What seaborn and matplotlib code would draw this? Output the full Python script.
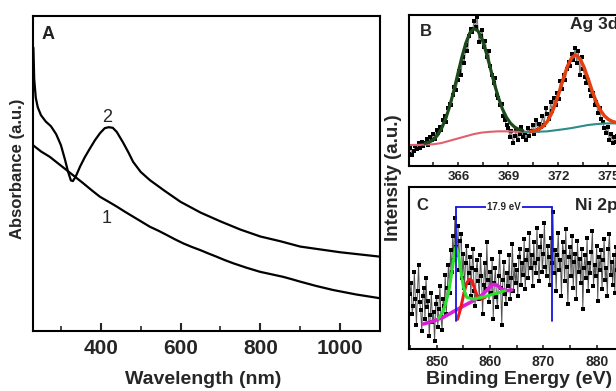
import matplotlib
matplotlib.use("Agg")
import matplotlib.pyplot as plt
from matplotlib.ticker import MultipleLocator
import seaborn as sns
import numpy as np

# ---------------- panel A : UV-vis absorbance ----------------
WL_1 = [230, 250, 272, 295, 314, 335, 356, 377, 398, 420, 440, 460, 481, 502,
        523, 545, 565, 586, 607, 628, 649, 670, 690, 711, 732, 765, 799, 828,
        857, 880, 899, 940, 983, 1040, 1100]
ABS_1 = [0.590, 0.570, 0.553, 0.530, 0.511, 0.490, 0.469, 0.447, 0.426, 0.410,
         0.395, 0.379, 0.363, 0.347, 0.331, 0.318, 0.305, 0.291, 0.278, 0.267,
         0.257, 0.246, 0.236, 0.225, 0.215, 0.201, 0.188, 0.180, 0.172, 0.164,
         0.157, 0.143, 0.130, 0.116, 0.104]

WL_2 = [231, 233, 237, 242, 250, 262, 275, 288, 300, 310, 318, 325, 330, 337,
        348, 360, 373, 385, 398, 410, 420, 430, 440, 456, 470, 481, 500, 523,
        560, 600, 650, 700, 750, 800, 850, 900, 950, 1000, 1050, 1100]
ABS_2 = [0.900, 0.800, 0.740, 0.710, 0.685, 0.665, 0.650, 0.625, 0.590, 0.545,
         0.505, 0.478, 0.476, 0.490, 0.522, 0.552, 0.580, 0.605, 0.628, 0.644,
         0.647, 0.645, 0.632, 0.598, 0.565, 0.537, 0.505, 0.479, 0.445, 0.410,
         0.376, 0.348, 0.322, 0.300, 0.285, 0.268, 0.259, 0.250, 0.243, 0.236]
A_TICKS = [400, 600, 800, 1000]

# ---------------- panel B : Ag 3d XPS ----------------
B_START, B_STEP = 363.02, 0.0978
B_COUNTS = [0.08, 0.12, 0.07, 0.10, 0.13, 0.11, 0.15, 0.12, 0.16, 0.13,
            0.15, 0.18, 0.14, 0.19, 0.17, 0.21, 0.18, 0.24, 0.22, 0.26,
            0.24, 0.30, 0.33, 0.29, 0.38, 0.41, 0.40, 0.47, 0.52, 0.50,
            0.57, 0.63, 0.60, 0.72, 0.68, 0.80, 0.76, 0.86, 0.91, 0.89,
            0.96, 0.92, 0.99, 0.82, 0.86, 0.90, 0.79, 0.83, 0.72, 0.76,
            0.66, 0.60, 0.55, 0.58, 0.47, 0.45, 0.40, 0.41, 0.33, 0.30,
            0.27, 0.25, 0.19, 0.23, 0.15, 0.20, 0.24, 0.17, 0.21, 0.26,
            0.19, 0.22, 0.17, 0.25, 0.20, 0.23, 0.27, 0.21, 0.30, 0.24,
            0.28, 0.26, 0.33, 0.27, 0.38, 0.34, 0.31, 0.42, 0.36, 0.45,
            0.40, 0.48, 0.44, 0.56, 0.51, 0.60, 0.57, 0.64, 0.69, 0.66,
            0.74, 0.70, 0.78, 0.68, 0.76, 0.60, 0.72, 0.64, 0.59, 0.55,
            0.57, 0.50, 0.46, 0.48, 0.40, 0.42, 0.35, 0.38, 0.31, 0.29,
            0.25, 0.22, 0.26, 0.17, 0.21, 0.15, 0.19, 0.16, 0.20, 0.18,
            0.22]
B_FIT1 = [0.148, 0.156, 0.171, 0.201, 0.245, 0.308, 0.392, 0.492, 0.605, 0.717,
          0.813, 0.882, 0.910, 0.894, 0.838, 0.752, 0.650, 0.545, 0.452, 0.376,
          0.320, 0.281, 0.256, 0.241, 0.233]
B_FIT1_RANGE = (364.0, 369.86)
B_FIT2 = [0.228, 0.233, 0.243, 0.262, 0.293, 0.344, 0.412, 0.495, 0.584, 0.663,
          0.717, 0.735, 0.711, 0.654, 0.578, 0.497, 0.425, 0.369, 0.331, 0.307,
          0.293, 0.286, 0.283, 0.282, 0.281, 0.281, 0.281]
B_FIT2_RANGE = (370.35, 376.71)
B_BASE1 = [0.137, 0.138, 0.140, 0.142, 0.150, 0.165, 0.180, 0.195, 0.210, 0.220,
           0.225, 0.228, 0.228, 0.226, 0.225, 0.225, 0.226]
B_BASE1_RANGE = (363.0, 370.85)
B_BASE2 = [0.225, 0.225, 0.226, 0.228, 0.235, 0.242, 0.250, 0.260, 0.270, 0.276,
           0.280, 0.281, 0.280, 0.279, 0.278]
B_BASE2_RANGE = (369.86, 376.71)
B_TICKS = [366, 369, 372, 375]

# ---------------- panel C : Ni 2p XPS ----------------
C_START, C_STEP = 845.0, 0.2
C_COUNTS = [0.34, 0.41, 0.22, 0.27, 0.48, 0.31, 0.15, 0.36, 0.52, 0.29,
            0.24, 0.11, 0.33, 0.38, 0.19, 0.44, 0.26, 0.30, 0.08, 0.21,
            0.35, 0.17, 0.23, 0.05, 0.28, 0.32, 0.14, 0.25, 0.39, 0.20,
            0.12, 0.31, 0.27, 0.46, 0.22, 0.38, 0.52, 0.35, 0.61, 0.48,
            0.70, 0.55, 0.81, 0.63, 0.58, 0.76, 0.49, 0.67, 0.71, 0.44,
            0.59, 0.38, 0.53, 0.64, 0.41, 0.47, 0.57, 0.33, 0.50, 0.62,
            0.36, 0.27, 0.49, 0.55, 0.42, 0.31, 0.58, 0.45, 0.22, 0.40,
            0.53, 0.37, 0.66, 0.43, 0.29, 0.48, 0.35, 0.56, 0.19, 0.41,
            0.50, 0.32, 0.26, 0.45, 0.60, 0.38, 0.15, 0.43, 0.54, 0.34,
            0.28, 0.47, 0.39, 0.58, 0.31, 0.44, 0.65, 0.36, 0.52, 0.41,
            0.49, 0.33, 0.57, 0.62, 0.40, 0.53, 0.46, 0.68, 0.37, 0.55,
            0.61, 0.44, 0.72, 0.50, 0.58, 0.39, 0.66, 0.53, 0.47, 0.75,
            0.56, 0.42, 0.63, 0.70, 0.48, 0.59, 0.78, 0.51, 0.45, 0.64,
            0.57, 0.40, 0.69, 0.53, 0.85, 0.47, 0.61, 0.36, 0.58, 0.72,
            0.49, 0.55, 0.33, 0.66, 0.60, 0.42, 0.74, 0.51, 0.28, 0.57,
            0.63, 0.45, 0.70, 0.38, 0.54, 0.59, 0.31, 0.67, 0.48, 0.56,
            0.41, 0.62, 0.25, 0.50, 0.58, 0.44, 0.69, 0.36, 0.53, 0.47,
            0.60, 0.73, 0.39, 0.52, 0.45, 0.64, 0.30, 0.57, 0.49, 0.61,
            0.37, 0.55, 0.68, 0.43, 0.50, 0.33, 0.62, 0.71, 0.46, 0.54,
            0.40, 0.58, 0.35, 0.63, 0.49, 0.44, 0.60, 0.38, 0.52, 0.47]
C_GREEN_EV = [850.3, 851.2, 852.2, 852.8, 853.3, 853.6, 854.05, 854.5, 855.0,
              855.6, 856.9, 859.4, 861.25, 862.8]
C_GREEN = [0.191, 0.232, 0.346, 0.469, 0.582, 0.633, 0.593, 0.490, 0.386,
           0.321, 0.309, 0.329, 0.346, 0.362]
C_RED_EV = [853.9, 854.5, 855.1, 855.6, 856.1, 856.6, 857.1, 857.6, 858.25, 859.1]
C_RED = [0.185, 0.253, 0.346, 0.407, 0.432, 0.424, 0.376, 0.329, 0.309, 0.321]
C_MAG_EV = [847.5, 849.4, 851.2, 853.1, 855.0, 856.9, 858.7, 859.7, 860.5,
            861.4, 862.2, 863.2, 864.1]
C_MAG = [0.156, 0.175, 0.197, 0.232, 0.267, 0.300, 0.340, 0.376, 0.401,
         0.395, 0.370, 0.362, 0.366]
C_SPLIT = (853.6, 871.6)
C_TICKS = [850, 860, 870, 880]

sns.set_style("ticks")
plt.rcParams['font.family'] = ['Liberation Sans', 'DejaVu Sans']

W, H = 616, 391
fig = plt.figure(figsize=(W / 100, H / 100), dpi=100)
axA = fig.add_axes([33 / W, 1 - 331 / H, 347 / W, 315 / H])
axB = fig.add_axes([409.3 / W, 1 - 165.7 / H, 232.5 / W, 150.7 / H])
axC = fig.add_axes([409.3 / W, 1 - 349.3 / H, 240.7 / W, 162 / H])

# --- A ---
sns.lineplot(x=WL_1, y=ABS_1, ax=axA, color='black', lw=1.6)
sns.lineplot(x=WL_2, y=ABS_2, ax=axA, color='black', lw=1.6)
axA.set_xlim(230, 1100)
axA.set_ylim(0, 1)
axA.set_xticks(A_TICKS)
axA.xaxis.set_minor_locator(MultipleLocator(100))
axA.set_yticks([])
axA.tick_params(axis='x', which='major', direction='in', length=6, width=1.5,
                labelsize=15, pad=6)
axA.tick_params(axis='x', which='minor', direction='in', length=3.5, width=1.2)
axA.text(415, 0.652, '2', ha='center', va='bottom', fontsize=13)
axA.text(415, 0.356, '1', ha='center', va='center', fontsize=13)
axA.text(0.025, 0.94, 'A', transform=axA.transAxes, ha='left', va='center',
         fontsize=13, fontweight='bold', color='#222222')

# --- B ---
bx = B_START + B_STEP * np.arange(len(B_COUNTS))
sns.lineplot(x=bx, y=B_COUNTS, ax=axB, color='#6e6e6e', lw=0.7, marker='s',
             markersize=2.6, markerfacecolor='black', markeredgecolor='black',
             markeredgewidth=0)
sns.lineplot(x=np.linspace(*B_BASE1_RANGE, len(B_BASE1)), y=B_BASE1, ax=axB,
             color='#e0606e', lw=1.5)
sns.lineplot(x=np.linspace(*B_BASE2_RANGE, len(B_BASE2)), y=B_BASE2, ax=axB,
             color='#2b8c8c', lw=1.5)
sns.lineplot(x=np.linspace(*B_FIT1_RANGE, len(B_FIT1)), y=B_FIT1, ax=axB,
             color='#1d4a1d', lw=2.3)
sns.lineplot(x=np.linspace(*B_FIT2_RANGE, len(B_FIT2)), y=B_FIT2, ax=axB,
             color='#e5400f', lw=2.5)
axB.set_xlim(363.05, 377.0)
axB.set_ylim(0, 1)
axB.set_xticks(B_TICKS)
axB.xaxis.set_minor_locator(MultipleLocator(1.5))
axB.set_yticks([])
axB.tick_params(axis='x', which='both', direction='in', length=3, width=1.2,
                labelsize=9.5, pad=4)
axB.text(0.046, 0.889, 'B', transform=axB.transAxes, ha='left', va='center',
         fontsize=12, fontweight='bold')
axB.text(0.691, 0.934, 'Ag 3d', transform=axB.transAxes, ha='left',
         va='center', fontsize=12.5, fontweight='bold')

# --- C ---
cx = C_START + C_STEP * np.arange(len(C_COUNTS))
sns.lineplot(x=cx, y=C_COUNTS, ax=axC, color='#555555', lw=0.7, marker='s',
             markersize=2.8, markerfacecolor='black', markeredgecolor='black',
             markeredgewidth=0)
sns.lineplot(x=C_MAG_EV, y=C_MAG, ax=axC, color='#d81fd8', lw=2.6)
sns.lineplot(x=C_RED_EV, y=C_RED, ax=axC, color='#ee1a1a', lw=2.2)
sns.lineplot(x=C_GREEN_EV, y=C_GREEN, ax=axC, color='#2ee02e', lw=2.2)
x0, x1 = C_SPLIT
axC.plot([x0, x0], [0.177, 0.876], color='#1515e0', lw=1.3)
axC.plot([x1, x1], [0.172, 0.876], color='#1515e0', lw=1.3)
axC.plot([x0, x1], [0.876, 0.876], color='#1515e0', lw=1.3)
axC.text((x0 + x1) / 2, 0.876, '17.9 eV', ha='center', va='center', fontsize=7,
         fontweight='bold', bbox=dict(facecolor='white', edgecolor='none', pad=0.6))
axC.set_xlim(844.86, 890.0)
axC.set_ylim(0, 1)
axC.set_xticks(C_TICKS)
axC.xaxis.set_minor_locator(MultipleLocator(5))
axC.set_yticks([])
axC.tick_params(axis='x', which='both', direction='in', length=3, width=1.2,
                labelsize=10, pad=4)
axC.text(0.031, 0.89, 'C', transform=axC.transAxes, ha='left', va='center',
         fontsize=12, fontweight='bold')
axC.text(0.688, 0.89, 'Ni 2p', transform=axC.transAxes, ha='left', va='center',
         fontsize=12.5, fontweight='bold')

for ax in (axA, axB, axC):
    ax.set_xlabel('')
    ax.set_ylabel('')
    for sp in ax.spines.values():
        sp.set_linewidth(1.5)
        sp.set_color('black')
    for lbl in ax.get_xticklabels():
        lbl.set_fontweight('bold')

fig.text(18 / W, 1 - 169 / H, 'Absorbance (a.u.)', rotation=90, ha='center',
         va='center', fontsize=12, fontweight='bold')
fig.text(202.7 / W, 1 - 380 / H, 'Wavelength (nm)', ha='center', va='center',
         fontsize=14, fontweight='bold')
fig.text(393 / W, 1 - 178 / H, 'Intensity (a.u.)', rotation=90, ha='center',
         va='center', fontsize=13.5, fontweight='bold')
fig.text(519 / W, 1 - 380 / H, 'Binding Energy (eV)', ha='center', va='center',
         fontsize=14, fontweight='bold')

fig.savefig('out.png', dpi=100)
